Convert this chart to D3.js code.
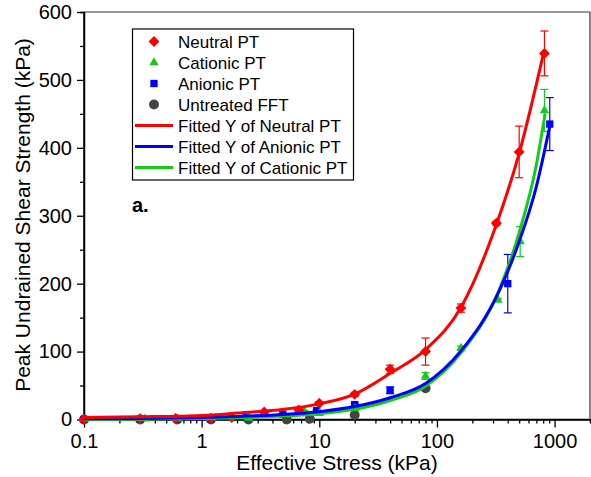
<!DOCTYPE html>
<html><head><meta charset="utf-8">
<script src="https://cdn.jsdelivr.net/npm/d3@7"></script>
<style>
html,body{margin:0;padding:0;background:#fff;}
svg{display:block;font-family:Arial,"Liberation Sans",sans-serif;}
</style></head>
<body>
<svg id="chart" width="591" height="477"></svg>
<script>
// ---- data ----
const xTicks = [0.1, 1, 10, 100, 1000];
const xTickLabels = ["0.1", "1", "10", "100", "1000"];
const yTicks = [0, 100, 200, 300, 400, 500, 600];
const yMinorTicks = [50, 150, 250, 350, 450, 550];

const neutralX   = [0.1, 0.3, 0.6, 1.2, 1.8, 3.4, 6.7, 10, 20, 40, 80, 160, 320, 500, 820];
const neutralY   = [0, 1, 1.5, 2, 3, 11, 14, 24, 37, 74, 100, 164, 289, 394, 539];
const neutralErr = [0, 1, 1, 1, 1, 2, 2, 2, 3, 6, 20, 6, 3, 38, 33];

const cationicX   = [0.1, 0.33, 0.62, 1.2, 2.5, 7.5, 10, 20, 80, 160, 330, 510, 820];
const cationicY   = [0, 1, 1, 2, 2, 12, 9, 16, 64, 105, 176, 262, 455];
const cationicErr = [0, 3, 2, 3, 1, 1, 1, 2, 5, 3, 2, 22, 31];

const anionicX   = [0.1, 0.3, 0.62, 1.2, 2.4, 4.9, 9.5, 20, 40, 400, 910];
const anionicY   = [0, 0.5, 1, 1.5, 3, 8, 13, 22, 43, 200, 435];
const anionicErr = [0, 1, 1, 1, 1, 1, 1, 2, 5, 43, 39];

const untreatedX = [0.1, 0.3, 0.62, 1.2, 2.5, 5.3, 8.3, 20, 80];
const untreatedY = [0, 0, 0, 0, 0, 0, 1, 6.5, 46];

// fitted curves
const fitNeutralX  = [0.1, 0.3, 1, 2, 5, 10, 20, 40, 80, 160, 320, 500, 820];
const fitNeutralY  = [3, 4, 6, 9.5, 15, 23, 37.5, 68, 103, 165, 287, 392, 545];
const fitAnionicX  = [0.1, 0.3, 1, 2, 5, 10, 20, 40, 80, 160, 340, 500, 700, 910];
const fitAnionicY  = [1, 1.5, 3, 4.5, 7.5, 11.5, 19, 32, 53, 101, 190, 262, 343, 432];
const fitCationicX = [0.1, 0.3, 1, 2, 5, 10, 20, 40, 80, 160, 340, 500, 700, 830];
const fitCationicY = [0, 0.5, 1.5, 2.5, 5, 8.5, 15, 28, 49, 98, 192, 275, 375, 450];

const legendLabels = ["Neutral PT", "Cationic PT", "Anionic PT", "Untreated FFT",
  "Fitted Y of Neutral PT", "Fitted Y of Anionic PT", "Fitted Y of Cationic PT"];

const RED = "#ff0000", GREEN = "#14cc14", BLUE = "#0000ff", GRAY = "#444444";

// ---- layout ----
const L = 84, R = 590, T = 12, B = 419.5;
const svg = d3.select("#chart");
const x = d3.scaleLog().domain([0.1, 2000]).range([L, R]);
const y = d3.scaleLinear().domain([0, 600]).range([B, T]);

// frame top/right
svg.append("line").attr("x1", L).attr("x2", R).attr("y1", T).attr("y2", T).attr("stroke", "#333").attr("stroke-width", 1.2);
svg.append("line").attr("x1", R).attr("x2", R).attr("y1", T).attr("y2", B).attr("stroke", "#333").attr("stroke-width", 1.2);

// minor x ticks
const minorX = [];
for (let d = -1; d <= 3; d++) for (let m = 2; m <= 9; m++) { const v = m * Math.pow(10, d); if (v < 2000) minorX.push(v); }

const gxMinor = svg.append("g").attr("transform", `translate(0,${B})`)
  .call(d3.axisBottom(x).tickValues(minorX).tickSize(4).tickFormat(""));
const gx = svg.append("g").attr("transform", `translate(0,${B})`)
  .call(d3.axisBottom(x).tickValues(xTicks).tickSize(8).tickPadding(6)
    .tickFormat((d, i) => xTickLabels[i]));
const gyMinor = svg.append("g").attr("transform", `translate(${L},0)`)
  .call(d3.axisLeft(y).tickValues(yMinorTicks).tickSize(4).tickFormat(""));
const gy = svg.append("g").attr("transform", `translate(${L},0)`)
  .call(d3.axisLeft(y).tickValues(yTicks).tickSize(7).tickPadding(5));

[gx, gy, gxMinor, gyMinor].forEach(g => {
  g.selectAll("path").attr("stroke", "#000").attr("stroke-width", 1.5);
  g.selectAll("line").attr("stroke", "#000").attr("stroke-width", 1.3);
  g.selectAll("text").attr("font-size", 20).attr("fill", "#000")
    .attr("font-family", "Arial, 'Liberation Sans', sans-serif");
});
gx.select("path").attr("d", `M${L},0H${R}`);
gy.select("path").attr("d", `M0,${T}V${B}`);

// axis titles
svg.append("text").attr("x", 337).attr("y", 470).attr("text-anchor", "middle")
  .attr("font-size", 21).text("Effective Stress (kPa)");
svg.append("text").attr("transform", "translate(30,215) rotate(-90)").attr("text-anchor", "middle")
  .attr("font-size", 21).text("Peak Undrained Shear Strength (kPa)");

// panel label
svg.append("text").attr("x", 132).attr("y", 212).attr("font-size", 20).attr("font-weight", "bold").text("a.");

// ---- error bars ----
function errorBars(xs, ys, es, color) {
  const g = svg.append("g").attr("stroke", color).attr("stroke-width", 1.2).attr("fill", "none");
  xs.forEach((xv, i) => {
    const e = es[i]; if (!e) return;
    const px = x(xv), y1 = y(ys[i] + e), y2 = y(Math.max(0, ys[i] - e));
    g.append("line").attr("x1", px).attr("x2", px).attr("y1", y1).attr("y2", y2);
    g.append("line").attr("x1", px - 4).attr("x2", px + 4).attr("y1", y1).attr("y2", y1);
    g.append("line").attr("x1", px - 4).attr("x2", px + 4).attr("y1", y2).attr("y2", y2);
  });
}
errorBars(neutralX, neutralY, neutralErr, RED);
errorBars(cationicX, cationicY, cationicErr, GREEN);
errorBars(anionicX, anionicY, anionicErr, BLUE);

// ---- markers ----
const sym = {
  diamond: d3.symbol().type(d3.symbolDiamond2).size(76),
  triangle: d3.symbol().type(d3.symbolTriangle2).size(62),
  square: d3.symbol().type(d3.symbolSquare2).size(68),
  circle: d3.symbol().type(d3.symbolCircle).size(78)
};
function markers(xs, ys, s, color) {
  svg.append("g").selectAll("path").data(xs).join("path")
    .attr("d", sym[s]).attr("fill", color)
    .attr("transform", (d, i) => `translate(${x(d)},${y(ys[i])})`);
}
markers(untreatedX, untreatedY, "circle", GRAY);
markers(anionicX, anionicY, "square", BLUE);
markers(cationicX, cationicY, "triangle", GREEN);
markers(neutralX, neutralY, "diamond", RED);

// ---- fitted curves ----
const line = d3.line().curve(d3.curveMonotoneX);
function curve(xs, ys, color) {
  svg.append("path").attr("d", line(xs.map((d, i) => [x(d), y(ys[i])])))
    .attr("fill", "none").attr("stroke", color).attr("stroke-width", 3);
}
curve(fitCationicX, fitCationicY, GREEN);
curve(fitAnionicX, fitAnionicY, BLUE);
curve(fitNeutralX, fitNeutralY, RED);

// ---- legend ----
const lg = svg.append("g");
lg.append("rect").attr("x", 132.5).attr("y", 29).attr("width", 221).attr("height", 151)
  .attr("fill", "#fff").attr("stroke", "#000").attr("stroke-width", 1.2);
const legendKinds = [
  {t: "diamond", c: RED}, {t: "triangle", c: GREEN}, {t: "square", c: BLUE}, {t: "circle", c: GRAY},
  {t: "line", c: RED}, {t: "line", c: BLUE}, {t: "line", c: GREEN}
];
legendLabels.forEach((lab, i) => {
  const cy = 41.5 + i * 21;
  const k = legendKinds[i];
  if (k.t === "line") {
    lg.append("line").attr("x1", 135).attr("x2", 173).attr("y1", cy).attr("y2", cy)
      .attr("stroke", k.c).attr("stroke-width", 3);
  } else {
    lg.append("path").attr("d", sym[k.t]).attr("fill", k.c).attr("transform", `translate(154,${cy})`);
  }
  lg.append("text").attr("x", 178).attr("y", cy + 6).attr("font-size", 17).text(lab);
});
</script>
</body></html>
